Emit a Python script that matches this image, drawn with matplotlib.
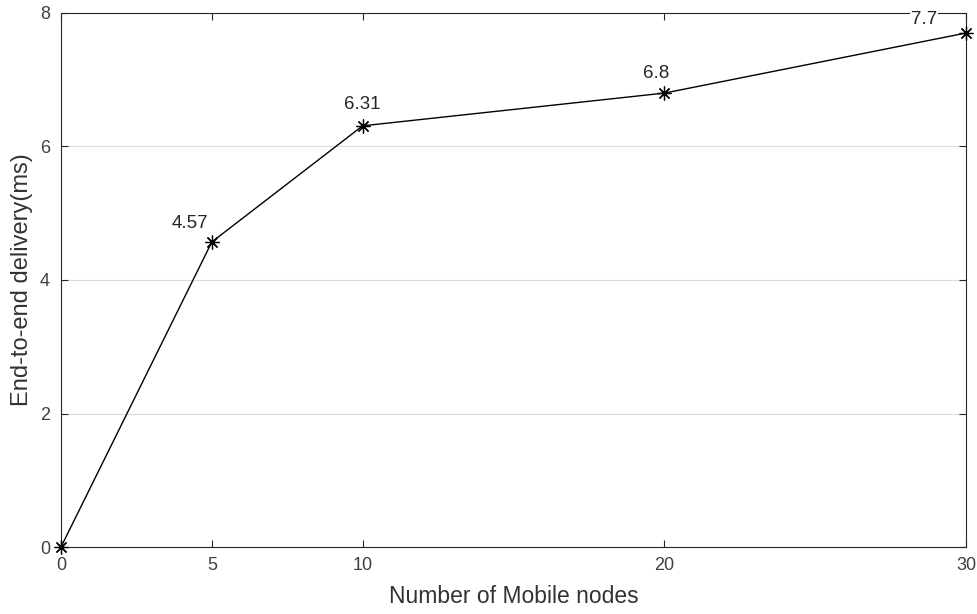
import numpy as np
import matplotlib.pyplot as plt

plt.rcParams['font.family'] = ['Liberation Sans', 'DejaVu Sans']

# Data
nodes = [0, 5, 10, 20, 30]
delay = [0, 4.57, 6.31, 6.8, 7.7]
point_labels = ['', '4.57', '6.31', '6.8', '7.7']
x_ticks = [0, 5, 10, 20, 30]
y_ticks = [0, 2, 4, 6, 8]

# label offsets in pixels (dx, dy) from each point
label_offsets = [(0, 0), (-22, 14), (0, 17), (-8, 15), (-42, 9)]

fig = plt.figure(figsize=(9.78, 6.14), dpi=100)
ax = fig.add_axes([61 / 978, 1 - 547 / 614, 905 / 978, 534 / 614])

# MATLAB style asterisk marker
ax.plot(nodes, delay, color='black', linewidth=1.0, marker=(8, 2, 0), markersize=10,
        markeredgewidth=0.9, clip_on=False, zorder=3)

for xv, yv, lab, (dx, dy) in zip(nodes, delay, point_labels, label_offsets):
    if lab:
        ax.annotate(lab, (xv, yv), xytext=(dx * 0.72, dy * 0.72), textcoords='offset points',
                    ha='center', va='baseline', fontsize=13.5, color='#262626',
                    bbox=dict(facecolor='white', edgecolor='none', pad=0.5), zorder=4)

ax.set_xlim(0, 30)
ax.set_ylim(0, 8)
ax.set_xticks(x_ticks)
ax.set_yticks(y_ticks)
ax.yaxis.grid(True, color='#dcdcdc', linewidth=0.8)
ax.set_axisbelow(True)
ax.tick_params(direction='in', top=True, right=True, length=5, width=0.8,
               labelsize=13, labelcolor='#404040', colors='#262626')
ax.tick_params(axis='x', pad=7)
ax.tick_params(axis='y', pad=8)
for sp in ax.spines.values():
    sp.set_color('#262626')
    sp.set_linewidth(0.8)

ax.set_xlabel('Number of Mobile nodes', fontsize=16.5, color='#333333', labelpad=8)
ax.set_ylabel('End-to-end delivery(ms)', fontsize=17, color='#333333')
ax.yaxis.set_label_coords(-0.031, 0.5)

fig.savefig('out.png', dpi=100)
